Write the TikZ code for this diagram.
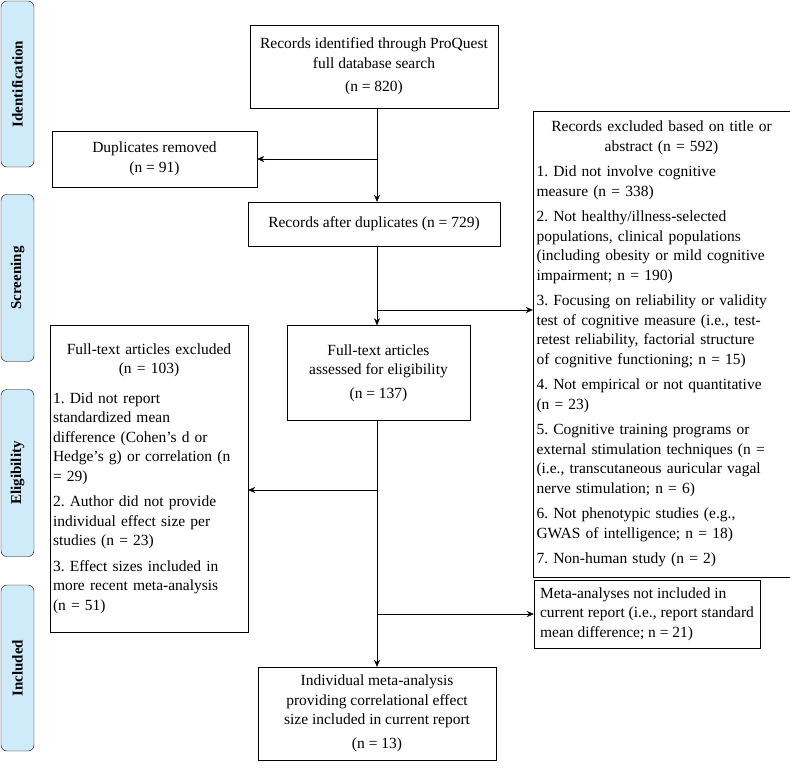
\documentclass[tikz,border=0pt]{standalone}
\usepackage{fontspec}
\setmainfont{Liberation Serif}
\usetikzlibrary{calc, arrows.meta}
\definecolor{stagebg}{HTML}{CFEAF8}
\frenchspacing
\begin{document}
\begin{tikzpicture}[x=1pt,y=-1pt,
  font=\fontsize{15.5}{19.5}\selectfont,
  box/.style={draw, thin, inner sep=3pt, align=center},
  stage/.style={draw, rounded corners=6pt, fill=stagebg, rotate=90, minimum height=33, font=\fontsize{15}{16}\selectfont\bfseries},
  arr/.style={-{Stealth[length=7pt,width=6pt]}, thin}]
\useasboundingbox (0,0) rectangle (790,772);
% stages
\node[stage, minimum width=166] (S_id) at (17.5,84) {Identification};
\node[stage, minimum width=167] (S_sc) at (17.5,278) {Screening};
\node[stage, minimum width=167] (S_el) at (17.5,473) {Eligibility};
\node[stage, minimum width=166] (S_in) at (17.5,668) {Included};
% boxes
\node[box, minimum width=248, minimum height=83] (pq) at (374,66.5) {Records identified through ProQuest\\full database search\\[4pt](n = 820)};
\node[box, minimum width=205, minimum height=56] (dup) at (154.5,159) {Duplicates removed\\(n = 91)};
\node[box, minimum width=252, minimum height=44] (rad) at (374,224) {Records after duplicates (n = 729)};
\node[box, minimum width=257, minimum height=466, text width=250, align=left] (exc) at (661.5,344)
 {\centering Records excluded based on title or\\abstract (n = 592)\par\vspace{6pt}\raggedright
 1. Did not involve cognitive\\measure (n = 338)\par\vspace{6pt}
 2. Not healthy/illness-selected\\populations, clinical populations\\(including obesity or mild cognitive\\impairment; n = 190)\par\vspace{6pt}
 3. Focusing on reliability or validity\\test of cognitive measure (i.e., test-\\retest reliability, factorial structure\\of cognitive functioning; n = 15)\par\vspace{6pt}
 4. Not empirical or not quantitative\\(n = 23)\par\vspace{6pt}
 5. Cognitive training programs or\\external stimulation techniques (n =\\(i.e., transcutaneous auricular vagal\\nerve stimulation; n = 6)\par\vspace{6pt}
 6. Not phenotypic studies (e.g.,\\GWAS of intelligence; n = 18)\par\vspace{6pt}
 7. Non-human study (n = 2)};
\node[box, minimum width=198, minimum height=307, text width=192, align=left] (fte) at (149,478.5)
 {\centering Full-text articles excluded\\(n = 103)\par\vspace{10pt}\raggedright
 1. Did not report\\standardized mean\\difference (Cohen's d or\\Hedge's g) or correlation (n\\= 29)\par\vspace{6pt}
 2. Author did not provide\\individual effect size per\\studies (n = 23)\par\vspace{6pt}
 3. Effect sizes included in\\more recent meta-analysis\\(n = 51)};
\node[box, minimum width=183, minimum height=95] (fta) at (378.5,373) {Full-text articles\\assessed for eligibility\\[4pt](n = 137)};
\node[box, minimum width=226, minimum height=68, align=left] (mna) at (647,614) {Meta-analyses not included in\\current report (i.e., report standard\\mean difference; n = 21)};
\node[box, minimum width=238, minimum height=93] (fin) at (377,713.5) {Individual meta-analysis\\providing correlational effect\\size included in current report\\[4pt](n = 13)};
% branch points
\coordinate (b_dup) at (377,159);
\coordinate (b_exc) at (377,310);
\coordinate (b_fte) at (377,490);
\coordinate (b_mna) at (377,614);
% connectors
\draw[arr] (pq.south -| b_dup) -- (rad.north -| b_dup);
\draw[arr] (b_dup) -- (dup.east);
\draw[arr] (rad.south -| b_exc) -- (fta.north -| b_exc);
\draw[arr] (b_exc) -- (b_exc -| exc.west);
\draw[arr] (fta.south -| b_fte) -- (fin.north -| b_fte);
\draw[arr] (b_fte) -- (b_fte -| fte.east);
\draw[arr] (b_mna) -- (mna.west);
\end{tikzpicture}
\end{document}
